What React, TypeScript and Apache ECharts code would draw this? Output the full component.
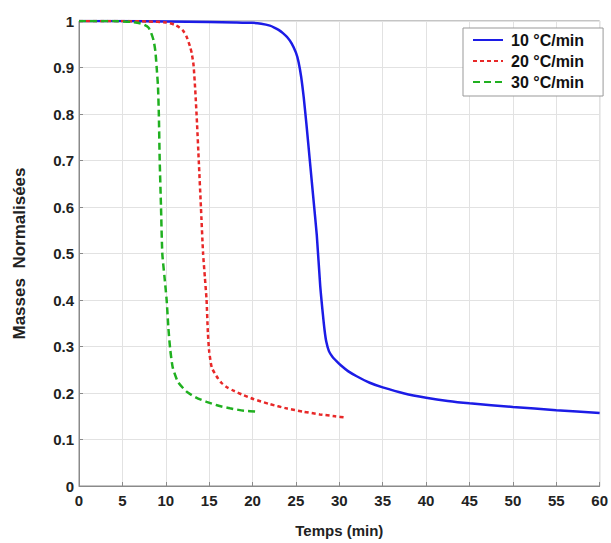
import React, { useEffect, useRef } from "react";
import * as echarts from "echarts";

const xTicks = [0, 5, 10, 15, 20, 25, 30, 35, 40, 45, 50, 55, 60];
const yTicks = [0, 0.1, 0.2, 0.3, 0.4, 0.5, 0.6, 0.7, 0.8, 0.9, 1];

const seriesNames = ["10 °C/min", "20 °C/min", "30 °C/min"];

const t10 = [0, 5, 10, 15, 18, 20, 21, 22, 22.5, 23, 23.5, 24, 24.5, 25, 25.3, 25.6, 25.9, 26.2, 26.6, 27, 27.4, 27.8, 28.1, 28.3, 28.5, 28.8, 29.2, 29.7, 30.2, 31, 32, 33.5, 35, 37.5, 40, 42.5, 45, 50, 55, 60];
const m10 = [1, 1, 0.999, 0.998, 0.997, 0.996, 0.994, 0.99, 0.986, 0.981, 0.974, 0.965, 0.952, 0.932, 0.912, 0.88, 0.835, 0.78, 0.7, 0.62, 0.54, 0.43, 0.37, 0.335, 0.31, 0.29, 0.278, 0.268, 0.259, 0.247, 0.236, 0.222, 0.212, 0.199, 0.19, 0.183, 0.178, 0.17, 0.163, 0.157];

const t20 = [0, 4, 8, 10, 10.5, 11, 11.5, 12, 12.4, 12.8, 13.0, 13.2, 13.4, 13.6, 13.8, 14.05, 14.3, 14.5, 14.7, 14.85, 15.0, 15.3, 15.85, 16.4, 17, 17.8, 19, 20.1, 22, 23.9, 25.8, 27.75, 29.5, 30.8];
const m20 = [1, 1, 0.999, 0.997, 0.995, 0.992, 0.987, 0.979, 0.966, 0.945, 0.93, 0.905, 0.85, 0.78, 0.7, 0.6, 0.5, 0.45, 0.4, 0.33, 0.29, 0.255, 0.236, 0.222, 0.213, 0.205, 0.195, 0.187, 0.176, 0.167, 0.16, 0.154, 0.15, 0.147];

const t30 = [0, 4, 6, 7, 7.5, 8, 8.3, 8.6, 8.8, 8.95, 9.1, 9.2, 9.3, 9.45, 9.6, 9.85, 10.1, 10.3, 10.5, 10.8, 11.4, 12.4, 13.5, 14.7, 16, 17.4, 19, 20.5];
const m30 = [1, 1, 0.998, 0.995, 0.992, 0.986, 0.975, 0.958, 0.935, 0.9, 0.86, 0.8, 0.7, 0.6, 0.5, 0.45, 0.4, 0.34, 0.296, 0.255, 0.224, 0.203, 0.19, 0.181, 0.173, 0.167, 0.162, 0.16];

const colors = ["#1c1ce6", "#e82828", "#20b020"];

const zip = (xs: number[], ys: number[]) => xs.map((x, i) => [x, ys[i]]);

const FONT = "'Liberation Sans', Arial, sans-serif";

export default function App() {
  const ref = useRef<HTMLDivElement>(null);
  useEffect(() => {
    if (!ref.current) return;
    const chart = echarts.init(ref.current, undefined, { renderer: "svg" });
    const lineCommon = {
      type: "line" as const,
      showSymbol: false,
      symbol: "none",
      smooth: 0.2,
    };
    chart.setOption({
      animation: false,
      backgroundColor: "#fff",
      grid: {
        left: 79,
        right: 11,
        top: 21,
        bottom: 55,
        show: true,
        borderColor: "#8a8a8a",
        borderWidth: 1,
      },
      legend: {
        orient: "vertical",
        left: 463,
        top: 28,
        padding: [4, 19, 6, 9],
        itemGap: 5,
        itemWidth: 30,
        itemHeight: 14,
        borderColor: "#999",
        borderWidth: 1,
        backgroundColor: "#fff",
        data: seriesNames,
        itemStyle: { opacity: 0 },
        textStyle: {
          fontFamily: FONT,
          fontWeight: "bold",
          fontSize: 16,
          color: "#111",
          padding: [0, 0, 0, 3],
        },
      },
      xAxis: {
        type: "value",
        min: 0,
        max: 60,
        interval: 5,
        name: "Temps (min)",
        nameLocation: "middle",
        nameGap: 37,
        nameTextStyle: { fontFamily: FONT, fontWeight: "bold", fontSize: 15, color: "#222" },
        axisLine: { show: true, lineStyle: { color: "#8a8a8a" } },
        axisTick: { show: true, inside: true, length: 4, lineStyle: { color: "#8a8a8a" } },
        axisLabel: {
          fontFamily: FONT,
          fontWeight: "bold",
          fontSize: 15,
          color: "#222",
          margin: 7,
          formatter: (v: number) => (xTicks.includes(v) ? String(v) : ""),
        },
        splitLine: { show: true, lineStyle: { color: "#e2e2e2" } },
      },
      yAxis: {
        type: "value",
        min: 0,
        max: 1,
        interval: 0.1,
        name: "Masses  Normalisées",
        nameLocation: "middle",
        nameGap: 51,
        nameTextStyle: { fontFamily: FONT, fontWeight: "bold", fontSize: 17, color: "#222" },
        axisLine: { show: true, lineStyle: { color: "#8a8a8a" } },
        axisTick: { show: true, inside: true, length: 4, lineStyle: { color: "#8a8a8a" } },
        axisLabel: {
          fontFamily: FONT,
          fontWeight: "bold",
          fontSize: 15,
          color: "#222",
          margin: 5,
          formatter: (v: number) => {
            const r = Math.round(v * 10) / 10;
            return yTicks.includes(r) ? String(r) : "";
          },
        },
        splitLine: { show: true, lineStyle: { color: "#e2e2e2" } },
      },
      series: [
        {
          ...lineCommon,
          name: seriesNames[0],
          data: zip(t10, m10),
          z: 3,
          itemStyle: { color: colors[0] },
          lineStyle: { color: colors[0], width: 2.5, type: "solid" },
        },
        {
          ...lineCommon,
          name: seriesNames[1],
          data: zip(t20, m20),
          z: 4,
          itemStyle: { color: colors[1] },
          lineStyle: { color: colors[1], width: 2.5, type: [4, 3] },
        },
        {
          ...lineCommon,
          name: seriesNames[2],
          data: zip(t30, m30),
          z: 5,
          itemStyle: { color: colors[2] },
          lineStyle: { color: colors[2], width: 2.5, type: [7, 4] },
        },
      ],
    });
    return () => chart.dispose();
  }, []);
  return (
    <div
      ref={ref}
      style={{ position: "absolute", left: 0, top: 0, width: 611, height: 543 }}
    />
  );
}
